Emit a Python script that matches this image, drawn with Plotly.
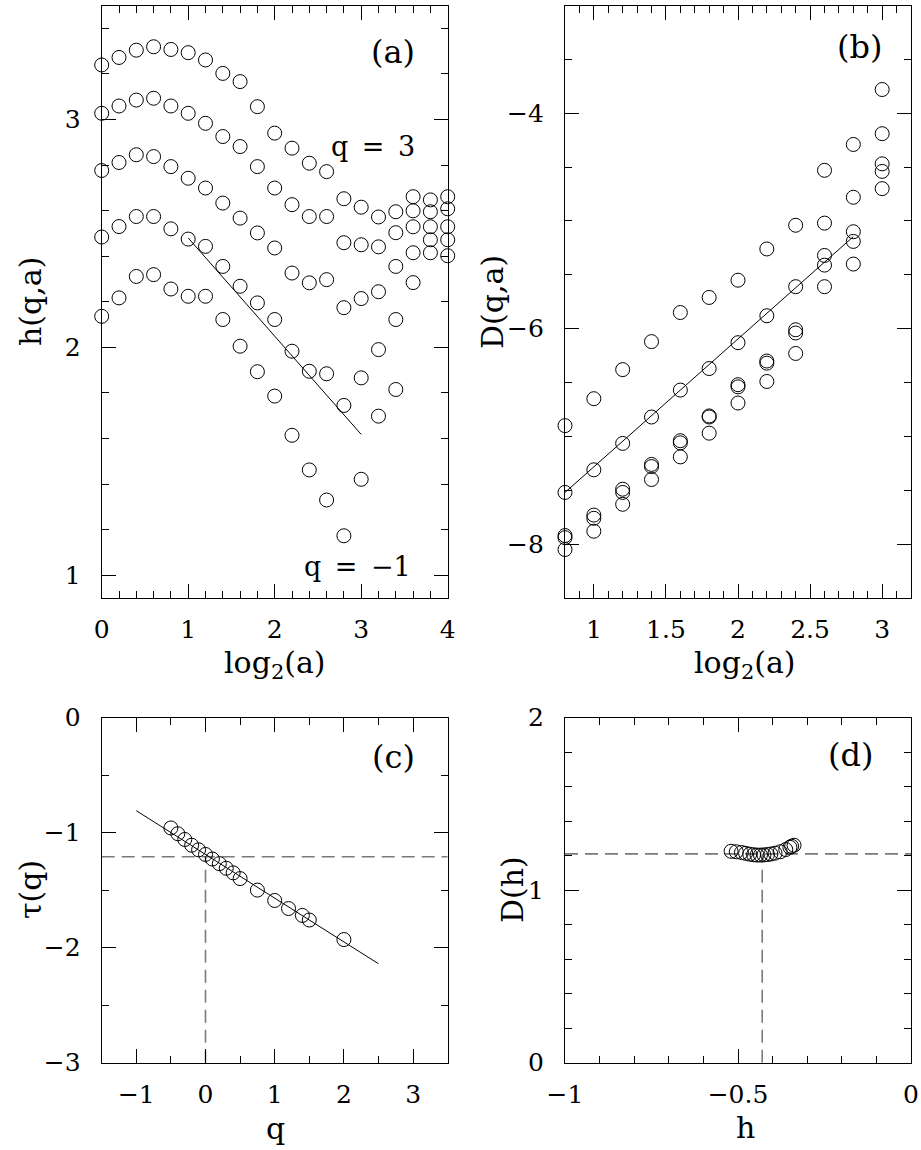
import plotly.graph_objects as go

W, H = 921, 1150

# ---------------- data ----------------
# panel (a): h(q,a) vs log2(a)
a_log2 = [0.0, 0.2, 0.4, 0.6, 0.8, 1.0, 1.2, 1.4, 1.6, 1.8, 2.0,
          2.2, 2.4, 2.6, 2.8, 3.0, 3.2, 3.4, 3.6, 3.8, 4.0]
h_q3 = [3.239, 3.272, 3.304, 3.319, 3.307, 3.293, 3.261, 3.202, 3.166, 3.056, 2.940,
        2.874, 2.808, 2.771, 2.652, 2.615, 2.572, 2.595, 2.661, 2.647, 2.661]
h_q2 = [3.027, 3.059, 3.085, 3.093, 3.059, 3.027, 2.983, 2.925, 2.881, 2.793, 2.699,
        2.626, 2.574, 2.574, 2.459, 2.450, 2.441, 2.503, 2.599, 2.595, 2.608]
h_q1 = [2.776, 2.811, 2.845, 2.837, 2.793, 2.742, 2.699, 2.633, 2.567, 2.502, 2.436,
        2.326, 2.283, 2.297, 2.174, 2.214, 2.244, 2.355, 2.529, 2.529, 2.529]
h_q0 = [2.484, 2.530, 2.574, 2.574, 2.520, 2.475, 2.443, 2.355, 2.268, 2.195, 2.122,
        1.983, 1.895, 1.884, 1.745, 1.866, 1.990, 2.122, 2.415, 2.472, 2.472]
h_qm1 = [2.136, 2.217, 2.311, 2.319, 2.256, 2.224, 2.224, 2.122, 2.005, 1.893, 1.786,
         1.614, 1.462, 1.330, 1.173, 1.421, 1.698, 1.815, 2.284, 2.415, 2.402]
a_fit_x = [1.0, 3.0]
a_fit_y = [2.48, 1.618]

# panel (b): D(q,a) vs log2(a)
b_log2 = [0.8, 1.0, 1.2, 1.4, 1.6, 1.8, 2.0, 2.2, 2.4, 2.6, 2.8, 3.0]
D_s1 = [-6.90, -6.65, -6.38, -6.12, -5.85, -5.71, -5.55, -5.26, -5.04, -4.53, -4.29, -3.78]
D_s2 = [-7.52, -7.31, -7.065, -6.82, -6.57, -6.37, -6.13, -5.88, -5.61, -5.02, -4.78, -4.19]
D_s3 = [-7.92, -7.73, -7.49, -7.26, -7.04, -6.81, -6.52, -6.30, -6.01, -5.32, -5.10, -4.47]
D_s4 = [-7.94, -7.76, -7.52, -7.28, -7.06, -6.82, -6.54, -6.32, -6.04, -5.41, -5.19, -4.54]
D_s5 = [-8.05, -7.88, -7.63, -7.40, -7.19, -6.97, -6.69, -6.49, -6.23, -5.61, -5.40, -4.70]
b_fit_x = [0.8, 2.8]
b_fit_y = [-7.52, -5.145]

# panel (c): tau(q)
q_vals = [-0.5, -0.4, -0.3, -0.2, -0.1, 0.0, 0.1, 0.2, 0.3, 0.4, 0.5,
          0.75, 1.0, 1.2, 1.4, 1.5, 2.0]
tau_vals = [-0.96, -1.01, -1.06, -1.11, -1.15, -1.19, -1.23, -1.27, -1.31, -1.35, -1.40,
            -1.50, -1.59, -1.66, -1.72, -1.76, -1.93]
c_fit_x = [-1.0, 2.5]
c_fit_y = [-0.81, -2.14]
tau0 = -1.21

# panel (d): D(h)
h_vals = [-0.520, -0.505, -0.490, -0.478, -0.466, -0.455, -0.445, -0.435, -0.425,
          -0.415, -0.405, -0.393, -0.378, -0.362, -0.350, -0.345, -0.338]
Dh_vals = [1.225, 1.222, 1.218, 1.213, 1.208, 1.205, 1.203, 1.203, 1.204,
           1.206, 1.209, 1.214, 1.222, 1.235, 1.248, 1.254, 1.260]
D0 = 1.21
h0 = -0.43

# ---------------- layout helpers ----------------
def px(x):
    return x / W

def py(y):
    return 1 - y / H

FONT = "DejaVu Serif"
TICK_FS = 25
TITLE_FS = 30
LABEL_FS = 32
CURVE_FS = 27

LEFT = [px(101.7), px(447.7)]
RIGHT = [px(565), px(911)]
TOP = [py(598), py(5.5)]
BOT = [py(1062.7), py(717.5)]

fig = go.Figure()

mk = dict(symbol="circle-open", size=14, color="black", line=dict(width=1, color="black"))

def pts(x, y, ax):
    fig.add_trace(go.Scatter(x=x, y=y, mode="markers", marker=mk, showlegend=False,
                             xaxis="x" + ax, yaxis="y" + ax, cliponaxis=False))

def line(x, y, ax, dash=None, color="black", width=1):
    fig.add_trace(go.Scatter(x=x, y=y, mode="lines", showlegend=False,
                             line=dict(color=color, width=width, dash=dash),
                             xaxis="x" + ax, yaxis="y" + ax))

for s in [h_q3, h_q2, h_q1, h_q0, h_qm1]:
    pts(a_log2, s, "")
line(a_fit_x, a_fit_y, "")

for s in [D_s1, D_s2, D_s3, D_s4, D_s5]:
    pts(b_log2, s, "2")
line(b_fit_x, b_fit_y, "2")

DASH = "13px,7px"
GREY = "#7a7a7a"
line([-1.5, 3.5], [tau0, tau0], "3", dash=DASH, color=GREY, width=1.6)
line([0, 0], [-3, tau0], "3", dash=DASH, color=GREY, width=1.6)
line(c_fit_x, c_fit_y, "3")
pts(q_vals, tau_vals, "3")

line([-1, 0], [D0, D0], "4", dash=DASH, color=GREY, width=1.6)
line([h0, h0], [0, D0], "4", dash=DASH, color=GREY, width=1.6)
pts(h_vals, Dh_vals, "4")


def ax(domain, anchor, rng, dtick, mdtick, standoff, tickvals=None):
    d = dict(domain=domain, anchor=anchor, range=rng, showline=True, linecolor="black",
             linewidth=1.2, mirror="allticks", ticks="inside", ticklen=14, tickwidth=1,
             tickcolor="black", dtick=dtick, tick0=0, showgrid=False, zeroline=False,
             tickfont=dict(family=FONT, size=TICK_FS, color="black"),
             ticklabelstandoff=standoff,
             minor=dict(ticks="inside", ticklen=7, tickwidth=1, tickcolor="black",
                        dtick=mdtick, tick0=0, showgrid=False),
             automargin=False)
    if tickvals is not None:
        d.pop("dtick")
        d["tickmode"] = "array"
        d["tickvals"] = tickvals
        d["ticktext"] = [("−" + f"{abs(v):g}") if v < 0 else f"{v:g}" for v in tickvals]
    return d

XS = 9
YS = 15
layout = dict(
    width=W, height=H, margin=dict(l=0, r=0, t=0, b=0),
    paper_bgcolor="white", plot_bgcolor="white",
    font=dict(family=FONT, size=TICK_FS, color="black"),
    xaxis=ax(LEFT, "y", [0, 4], 1, 0.2, XS),
    yaxis=ax(TOP, "x", [0.9, 3.5], 1, 0.2, YS),
    xaxis2=ax(RIGHT, "y2", [0.8, 3.2], 0.5, 0.1, XS, tickvals=[1, 1.5, 2, 2.5, 3]),
    yaxis2=ax(TOP, "x2", [-8.5, -3.0], 2, 0.5, YS),
    xaxis3=ax(LEFT, "y3", [-1.5, 3.5], 1, 0.5, XS),
    yaxis3=ax(BOT, "x3", [-3, 0], 1, 0.5, YS),
    xaxis4=ax(RIGHT, "y4", [-1, 0], 0.5, 0.1, XS),
    yaxis4=ax(BOT, "x4", [0, 2], 1, 0.2, YS),
)
fig.update_layout(**layout)

ann = []
def txt(x, y, t, xref, yref, angle=0, size=TITLE_FS):
    ann.append(dict(x=x, y=y, text=t, xref=xref, yref=yref, showarrow=False,
                    textangle=angle, font=dict(family=FONT, size=size, color="black"),
                    xanchor="center", yanchor="middle"))

# panel labels
txt(3.37, 3.294, "(a)", "x", "y", size=LABEL_FS)
txt(2.845, -3.385, "(b)", "x2", "y2", size=LABEL_FS)
txt(2.72, -0.343, "(c)", "x3", "y3", size=LABEL_FS)
txt(-0.176, 1.78, "(d)", "x4", "y4", size=LABEL_FS)
# curve labels
txt(3.14, 2.88, "q\u2002=\u20023", "x", "y", size=CURVE_FS)
txt(2.96, 1.04, "q\u2002=\u2002−1", "x", "y", size=CURVE_FS)
# axis titles
txt(px(30), py(302), "h(q,a)", "paper", "paper", angle=-90)
txt(px(492), py(302), "D(q,a)", "paper", "paper", angle=-90)
txt(px(30), py(890), "τ(q)", "paper", "paper", angle=-90)
txt(px(512), py(890), "D(h)", "paper", "paper", angle=-90)
txt(px(275), py(664), "log<sub>2</sub>(a)", "paper", "paper")
txt(px(745), py(664), "log<sub>2</sub>(a)", "paper", "paper")
txt(px(275), py(1128), "q", "paper", "paper")
txt(px(745), py(1127), "h", "paper", "paper")
fig.update_layout(annotations=ann)

fig.write_html(
    "out.html",
    config={"displayModeBar": False},
    post_script="document.body.style.margin='0';document.body.style.padding='0';"
                "document.documentElement.style.overflow='hidden';",
)
